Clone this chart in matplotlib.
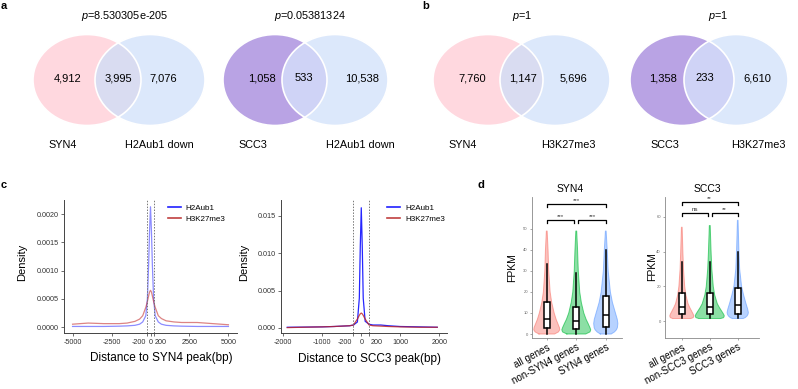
import matplotlib
matplotlib.use("Agg")
import matplotlib.pyplot as plt
import matplotlib.transforms as mtrans
from matplotlib.patches import Ellipse
from matplotlib.lines import Line2D
import numpy as np

plt.rcParams['font.family'] = ['Liberation Sans', 'DejaVu Sans']
plt.rcParams['mathtext.fontset'] = 'custom'
plt.rcParams['mathtext.it'] = 'Liberation Sans:italic'
plt.rcParams['mathtext.rm'] = 'Liberation Sans'

W, H = 798, 389

# ---------------- data ----------------
# a, b : venn diagrams
venn_left_names = ["SYN4", "SCC3", "SYN4", "SCC3"]
venn_right_names = ["H2Aub1 down", "H2Aub1 down", "H3K27me3", "H3K27me3"]
venn_left_only = [4912, 1058, 7760, 1358]
venn_both = [3995, 533, 1147, 233]
venn_right_only = [7076, 10538, 5696, 6610]
venn_p = ["8.530305e-205", "0.05381324", "1", "1"]

# c : density of marks around peaks
syn4_dist = [-5000, -4000, -3000, -2000, -1500, -1000, -700, -500, -300, -200, -120, -60, 0,
             60, 120, 200, 300, 500, 700, 1000, 1500, 2000, 3000, 4000, 5000]
syn4_h2aub1 = [0.00001, 0.00001, 0.00001, 0.000015, 0.00002, 0.00003, 0.00005, 0.00009, 0.0002,
               0.0005, 0.0011, 0.0017, 0.00213, 0.0017, 0.0011, 0.0005, 0.0002, 0.00009, 0.00005,
               0.00003, 0.00002, 0.000015, 0.00001, 0.00001, 0.00001]
syn4_h3k27 = [0.00005, 0.00007, 0.00006, 0.00006, 0.00007, 0.0001, 0.00014, 0.0002, 0.00035,
              0.00045, 0.00055, 0.00062, 0.00065, 0.00062, 0.00055, 0.00045, 0.00035, 0.0002,
              0.00015, 0.00011, 0.00009, 0.00008, 0.00008, 0.00006, 0.00004]

scc3_dist = [-1900, -1500, -1000, -700, -500, -300, -200, -100, -50, -25, 0, 25, 50, 100, 200,
             300, 500, 700, 1000, 1500, 1950]
scc3_h2aub1 = [0.0001, 0.00012, 0.00015, 0.0002, 0.00025, 0.0003, 0.0004, 0.0008, 0.004, 0.011,
               0.0161, 0.011, 0.004, 0.0009, 0.0005, 0.0004, 0.0004, 0.0003, 0.0002, 0.00015, 0.0001]
scc3_h3k27 = [0.00005, 0.0001, 0.00015, 0.0002, 0.00025, 0.0003, 0.0004, 0.0012, 0.0017, 0.0019,
              0.0020, 0.0019, 0.0017, 0.0012, 0.0004, 0.0003, 0.00025, 0.0002, 0.00015, 0.0001,
              0.0001]

# d : FPKM distributions
syn4_groups = ["all genes", "non-SYN4 genes", "SYN4 genes"]
scc3_groups = ["all genes", "non-SCC3 genes", "SCC3 genes"]

syn4_whislo = [0, 0, 0]
syn4_q1 = [3, 2.5, 3.5]
syn4_med = [7, 6, 9]
syn4_q3 = [15, 13, 18]
syn4_whishi = [33.5, 29, 40]

scc3_whislo = [2, 2, 2]
scc3_q1 = [4, 4, 4]
scc3_med = [8, 8, 9]
scc3_q3 = [16, 16, 19]
scc3_whishi = [34, 34, 40]

syn4_violin_fpkm = [[0, 1, 2, 3, 5, 7, 10, 15, 20, 30, 40, 49]] * 3
syn4_violin_width = [
    [0.6, 0.9, 1.0, 0.98, 0.85, 0.72, 0.57, 0.38, 0.26, 0.15, 0.1, 0.03],
    [0.65, 0.95, 1.0, 0.95, 0.82, 0.68, 0.52, 0.35, 0.24, 0.14, 0.09, 0.03],
    [0.45, 0.72, 0.88, 0.96, 1.0, 0.95, 0.8, 0.55, 0.38, 0.2, 0.12, 0.03],
]
syn4_violin_max = [0.44, 0.49, 0.41]

scc3_violin_fpkm = [
    [1.5, 2, 3, 4, 6, 8, 10, 15, 20, 30, 40, 54],
    [1.5, 2, 3, 4, 6, 8, 10, 15, 20, 30, 40, 55],
    [1.5, 2, 3, 4, 5, 7, 10, 15, 20, 30, 40, 58],
]
scc3_violin_width = [
    [0.75, 0.95, 1.0, 0.95, 0.8, 0.65, 0.52, 0.34, 0.24, 0.14, 0.09, 0.03],
    [0.75, 0.95, 1.0, 0.95, 0.8, 0.65, 0.52, 0.34, 0.24, 0.14, 0.09, 0.03],
    [0.5, 0.7, 0.88, 0.97, 1.0, 0.93, 0.78, 0.55, 0.36, 0.18, 0.11, 0.03],
]
scc3_violin_max = [0.43, 0.52, 0.38]

syn4_signif = [(1, 3, "***"), (1, 2, "***"), (2, 3, "***")]
scc3_signif = [(1, 3, "**"), (1, 2, "ns"), (2, 3, "**")]

# ---------------- figure ----------------
fig = plt.figure(figsize=(W / 100, H / 100), dpi=100)


def px_axes(l, t, r, b):
    return fig.add_axes([l / W, 1 - b / H, (r - l) / W, (b - t) / H])


def ftext(x, y, s, **kw):
    fig.text(x / W, 1 - y / H, s, **kw)


# venn diagrams on a full-figure canvas in pixel units
vax = fig.add_axes([0, 0, 1, 1])
vax.set_xlim(0, W)
vax.set_ylim(H, 0)
vax.axis("off")

venn_geom = [(87, 54, 150, 55), (275, 52, 335, 53), (488, 55, 555, 55), (682, 52, 736, 52)]
venn_num_x = [(68, 118, 163), (262, 304, 362), (472, 523, 573), (663, 705, 757)]
venn_lab_x = [(63, 159), (253, 360), (463, 568), (665, 758)]
venn_title_x = [125, 310, 522, 718]
left_cols = ["#FFD8DF", "#B9A3E4", "#FFD8DF", "#B9A3E4"]
over_cols = ["#D9DCF1", "#CFD3F6", "#D9DCF1", "#CFD3F6"]
blue_col = "#DCE8FB"
cy, eh = 80, 91

for i in range(4):
    lx, la, rx, ra = venn_geom[i]
    right = Ellipse((rx, cy), 2 * ra, eh, facecolor=blue_col, edgecolor="none", zorder=1)
    left = Ellipse((lx, cy), 2 * la, eh, facecolor=left_cols[i], edgecolor="none", zorder=2)
    vax.add_patch(right)
    vax.add_patch(left)
    over = Ellipse((rx, cy), 2 * ra, eh, facecolor=over_cols[i], edgecolor="none", zorder=3)
    vax.add_patch(over)
    over.set_clip_path(left)
    vax.add_patch(Ellipse((lx, cy), 2 * la, eh, fill=False, edgecolor="white", lw=1.2, zorder=4))
    vax.add_patch(Ellipse((rx, cy), 2 * ra, eh, fill=False, edgecolor="white", lw=1.2, zorder=4))
    nums = [venn_left_only[i], venn_both[i], venn_right_only[i]]
    for x, n in zip(venn_num_x[i], nums):
        vax.text(x, 78, f"{n:,}", ha="center", va="center", fontsize=8, zorder=5)
    vax.text(venn_lab_x[i][0], 145, venn_left_names[i], ha="center", va="center", fontsize=7.8)
    vax.text(venn_lab_x[i][1], 145, venn_right_names[i], ha="center", va="center", fontsize=7.8)
    vax.text(venn_title_x[i], 16, "$p$=" + venn_p[i], ha="center", va="center", fontsize=7.8)

for lab, x, y in [("a", 1, 6), ("b", 422, 6), ("c", 1, 185), ("d", 478, 185)]:
    ftext(x, y, lab, fontsize=8, fontweight="bold", ha="left", va="center")


# ---------------- c ----------------
def density_panel(box, dist, h2a, k27, xlim, ylim, xticks, xlabels, yticks, ylabels,
                  alphas, leg_anchor, xlab, xlab_pos, ylab_pos):
    ax = px_axes(*box)
    ax.plot(dist, h2a, color="#0000FF", lw=0.9, alpha=alphas[0])
    ax.plot(dist, k27, color="#C02020", lw=0.9, alpha=alphas[1])
    for v in (-200, 200):
        ax.axvline(v, color="#777777", ls=(0, (1.5, 1.5)), lw=0.7)
    ax.set_xlim(*xlim)
    ax.set_ylim(*ylim)
    ax.set_xticks(xticks, xlabels)
    ax.set_yticks(yticks, ylabels)
    ax.tick_params(labelsize=5.2, length=2, width=0.5, pad=2, colors="#333333")
    # the -200 / 200 labels sit next to the 0 label
    for t, v in zip(ax.get_xticklabels(), xticks):
        if v == -200:
            t.set_ha("right")
            t.set_transform(t.get_transform() + mtrans.ScaledTranslation(-1.5 / 100, 0, fig.dpi_scale_trans))
        elif v == 200:
            t.set_ha("left")
            t.set_transform(t.get_transform() + mtrans.ScaledTranslation(1.5 / 100, 0, fig.dpi_scale_trans))
    for s in ("top", "right"):
        ax.spines[s].set_visible(False)
    for s in ("left", "bottom"):
        ax.spines[s].set_color("#444444")
        ax.spines[s].set_linewidth(0.7)
    handles = [Line2D([], [], color="#2020FF", lw=1.2), Line2D([], [], color="#C04040", lw=1.2)]
    ax.legend(handles, ["H2Aub1", "H3K27me3"], loc="upper left", bbox_to_anchor=leg_anchor,
              frameon=False, fontsize=5.8, handlelength=1.6, handletextpad=0.6,
              labelspacing=0.45, borderpad=0, borderaxespad=0)
    ftext(xlab_pos[0], xlab_pos[1], xlab, fontsize=8.5, ha="center", va="center")
    ftext(ylab_pos[0], ylab_pos[1], "Density", fontsize=8, ha="center", va="center", rotation=90)
    return ax


density_panel((64, 200, 237, 333), syn4_dist, syn4_h2aub1, syn4_h3k27,
              (-5550, 5550), (-0.000106, 0.00225),
              [-5000, -2500, -200, 0, 200, 2500, 5000],
              ["-5000", "-2500", "-200", "0", "200", "2500", "5000"],
              [0, 0.0005, 0.001, 0.0015, 0.002],
              ["0.0000", "0.0005", "0.0010", "0.0015", "0.0020"],
              (0.45, 0.55), (0.6, 0.97), "Distance to SYN4 peak(bp)", (161, 358), (22, 262))

density_panel((281, 200, 447, 333), scc3_dist, scc3_h2aub1, scc3_h3k27,
              (-2060, 2200), (-0.00067, 0.01714),
              [-2000, -1000, -200, 0, 200, 1000, 2000],
              ["-2000", "-1000", "-200", "0", "200", "1000", "2000"],
              [0, 0.005, 0.01, 0.015],
              ["0.000", "0.005", "0.010", "0.015"],
              (0.85, 0.8), (0.64, 0.97), "Distance to SCC3 peak(bp)", (369, 359), (244, 262))


# ---------------- d ----------------
vcols = ["#F8766D", "#00BA38", "#619CFF"]


def fpkm_panel(box, groups, lo, q1, med, q3, hi, vf, vw, vmax, signif, sig_levels, tip,
               xlim, ylim, yticks, title, title_pos, ylab_pos):
    ax = px_axes(*box)
    for i in range(3):
        f = np.array(vf[i])
        w = np.array(vw[i]) * vmax[i]
        ax.fill_betweenx(f, i + 1 - w, i + 1 + w, facecolor=vcols[i], alpha=0.45,
                         edgecolor="none", zorder=1)
        ax.plot(np.r_[i + 1 - w, (i + 1 + w)[::-1], i + 1 - w[0]], np.r_[f, f[::-1], f[0]],
                color=vcols[i], alpha=0.6, lw=0.7, zorder=1)
    stats = [dict(whislo=lo[i], q1=q1[i], med=med[i], q3=q3[i], whishi=hi[i]) for i in range(3)]
    ax.bxp(stats, positions=[1, 2, 3], widths=0.2, patch_artist=True, showfliers=False,
           showcaps=False,
           boxprops=dict(facecolor="white", edgecolor="black", lw=1.1),
           medianprops=dict(color="black", lw=1.1),
           whiskerprops=dict(color="black", lw=1.1))
    for (a, b, lab), yl in zip(signif, sig_levels):
        if b - a == 1:
            a2, b2 = (a + 0.0, b - 0.07) if a == 1 else (a + 0.07, b)
        else:
            a2, b2 = a, b
        ax.plot([a2, a2, b2, b2], [yl - tip, yl, yl, yl - tip], color="black", lw=0.9,
                clip_on=False)
        ax.text((a2 + b2) / 2, yl + tip * 0.3, lab, ha="center", va="bottom", fontsize=4.5,
                color="#333333", clip_on=False)
    ax.set_xlim(*xlim)
    ax.set_ylim(*ylim)
    ax.set_yticks(yticks, [str(t) for t in yticks])
    ax.set_xticks([1, 2, 3], groups)
    ax.tick_params(axis="y", labelsize=3, length=1.5, width=0.4, pad=1.5, colors="#666666")
    ax.tick_params(axis="x", labelsize=7.1, length=1.5, width=0.4, pad=1.5, colors="#666666",
                   labelcolor="black")
    for t in ax.get_xticklabels():
        t.set_rotation(28)
        t.set_ha("right")
        t.set_va("top")
        t.set_rotation_mode("anchor")
    for s in ("top", "right"):
        ax.spines[s].set_visible(False)
    for s in ("left", "bottom"):
        ax.spines[s].set_color("#888888")
        ax.spines[s].set_linewidth(0.6)
    ftext(title_pos[0], title_pos[1], title, fontsize=7.5, ha="center", va="center")
    ftext(ylab_pos[0], ylab_pos[1], "FPKM", fontsize=7.5, ha="center", va="center", rotation=90)
    return ax


fpkm_panel((532, 197, 622, 338), syn4_groups, syn4_whislo, syn4_q1, syn4_med, syn4_q3,
           syn4_whishi, syn4_violin_fpkm, syn4_violin_width, syn4_violin_max, syn4_signif,
           [62, 54.3, 54.3], 1.4, (0.5, 3.55), (-1.9, 65.2), [0, 10, 20, 30, 40, 50],
           "SYN4", (570, 189), (512, 268))

fpkm_panel((665, 197, 759, 338), scc3_groups, scc3_whislo, scc3_q1, scc3_med, scc3_q3,
           scc3_whishi, scc3_violin_fpkm, scc3_violin_width, scc3_violin_max, scc3_signif,
           [68.6, 62.3, 62.3], 1.7, (0.4, 3.76), (-9.7, 71.4), [0, 20, 40, 60],
           "SCC3", (707, 189), (652, 267))

fig.savefig("out.png", dpi=100)
